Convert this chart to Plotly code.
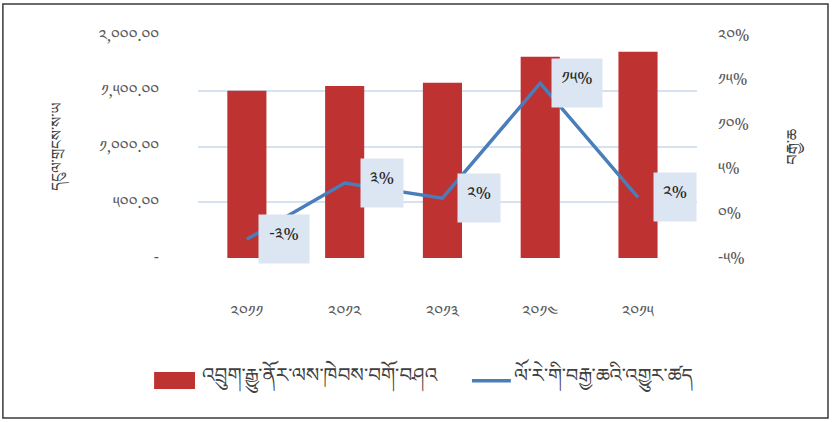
import plotly.graph_objects as go

years = ["༢༠༡༡", "༢༠༡༢", "༢༠༡༣", "༢༠༡༤", "༢༠༡༥"]
dividend = [1500, 1543, 1572, 1805, 1850]
growth = [-2.9, 3.4, 1.7, 14.6, 1.8]
growth_labels = ["-༣%", "༣%", "༢%", "༡༥%", "༢%"]

y1_ticks = [0, 500, 1000, 1500, 2000]
y1_labels = ["-", "༥༠༠.༠༠", "༡,༠༠༠.༠༠", "༡,༥༠༠.༠༠", "༢,༠༠༠.༠༠"]
y2_ticks = [-5, 0, 5, 10, 15, 20]
y2_labels = ["-༥%", "༠%", "༥%", "༡༠%", "༡༥%", "༢༠%"]

bar_name = "འབྲུག་རྒྱུ་ནོར་ལས་ཁེབས་བགོ་བཤའ"
line_name = "ལོ་རེ་གི་བརྒྱ་ཆའི་འགྱུར་ཚད"
y1_title = "དངུལ་གྲངས་ས་ཡ"
y2_title = "བརྒྱ་ཆ"

FONT = "Noto Sans Tibetan, Noto Serif Tibetan, Jomolhari, Microsoft Himalaya, DejaVu Sans, sans-serif"
GRID = "#d6e2f0"
BAR = "#bf3232"
LINE = "#4a7ebb"
TICK = "#595959"

fig = go.Figure()
fig.add_trace(go.Bar(x=years, y=dividend, name=bar_name, marker=dict(color=BAR, line=dict(width=0)),
                     width=0.4, yaxis="y", showlegend=False))
fig.add_trace(go.Scatter(x=years, y=growth, name=line_name, mode="lines",
                         line=dict(color=LINE, width=3.5), yaxis="y2", showlegend=False))

for xv, yv, t in zip(years, growth, growth_labels):
    w = 44 if len(t) > 2 else 36
    fig.add_annotation(x=xv, y=yv, xref="x", yref="y2", text=t, showarrow=False,
                       xshift=37, bgcolor="#dce6f2", width=w, height=42, borderpad=3,
                       font=dict(family=FONT, size=17, color="#262626"))

# legend (custom)
fig.add_shape(type="rect", xref="paper", yref="paper", x0=-0.088, x1=-0.006, y0=-0.587, y1=-0.511,
              fillcolor=BAR, line=dict(width=0))
fig.add_annotation(xref="paper", yref="paper", x=0.004, y=-0.55, xanchor="left", yanchor="middle",
                   text=bar_name, showarrow=False, font=dict(family=FONT, size=20, color="#404040"))
fig.add_shape(type="line", xref="paper", yref="paper", x0=0.549, x1=0.627, y0=-0.55, y1=-0.55,
              line=dict(color=LINE, width=3.5))
fig.add_annotation(xref="paper", yref="paper", x=0.629, y=-0.55, xanchor="left", yanchor="middle",
                   text=line_name, showarrow=False, font=dict(family=FONT, size=19.5, color="#404040"))

# outer border
fig.add_shape(type="rect", xref="paper", yref="paper", x0=-0.391, x1=1.2625, y0=-0.7175, y1=1.139,
              line=dict(color="#3a3a3a", width=1.5), fillcolor="rgba(0,0,0,0)")

fig.update_layout(
    width=833, height=422,
    margin=dict(l=198, r=136, t=35, b=164, autoexpand=False),
    paper_bgcolor="white", plot_bgcolor="white",
    font=dict(family=FONT, size=12, color=TICK),
    bargap=0.6,
    xaxis=dict(showgrid=False, showline=False, ticks="", ticklabelstandoff=42,
               tickfont=dict(size=16, color=TICK)),
    yaxis=dict(range=[0, 2000], tickvals=y1_ticks, ticktext=y1_labels, gridcolor=GRID, gridwidth=1.5,
               zeroline=False, showline=False, ticks="", ticklabelstandoff=38,
               tickfont=dict(size=16, color=TICK),
               title=dict(text=y1_title, standoff=32, font=dict(size=15, color="#404040"))),
    yaxis2=dict(range=[-5, 20], tickvals=y2_ticks, ticktext=y2_labels, overlaying="y", side="right",
                showgrid=False, zeroline=False, showline=False, ticks="", ticklabelstandoff=20,
                tickfont=dict(size=16, color=TICK),
                title=dict(text=y2_title, standoff=38, font=dict(size=16, color="#404040"))),
)

fig.write_html("out.html", post_script="document.body.style.margin='0';",
               config={"displayModeBar": False})
